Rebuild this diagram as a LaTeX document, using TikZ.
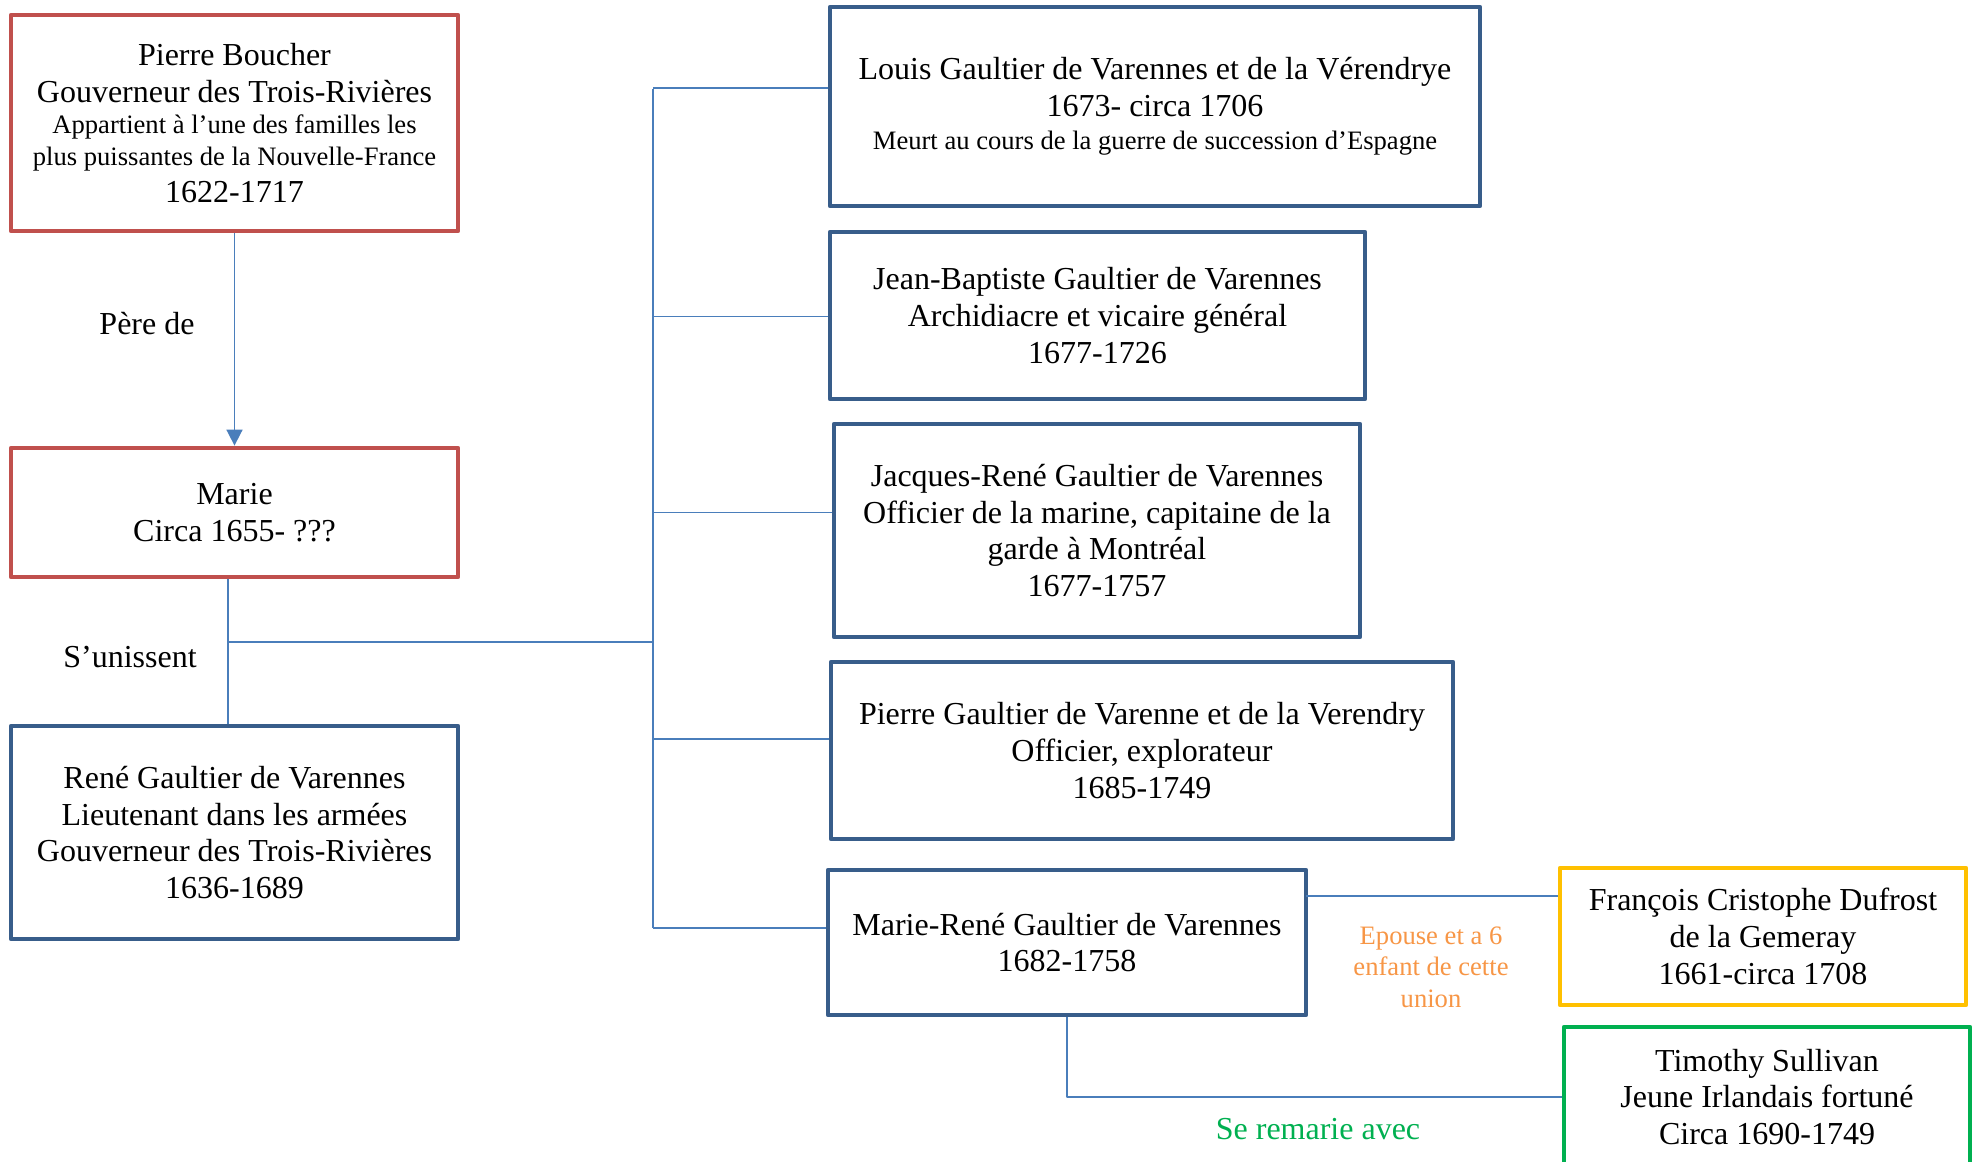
\documentclass[tikz,border=0pt]{standalone}
\usepackage{fontspec}
\setmainfont{Liberation Serif}
\usetikzlibrary{arrows.meta}
\definecolor{rouge}{RGB}{192,80,77}
\definecolor{bleu}{RGB}{56,93,138}
\definecolor{lienbleu}{RGB}{74,126,187}
\definecolor{jaune}{RGB}{255,192,0}
\definecolor{vert}{RGB}{0,176,80}
\definecolor{orangetxt}{RGB}{247,150,70}
\newcommand{\petit}{\fontsize{13.3}{15.8}\selectfont}
\begin{document}
\begin{tikzpicture}[x=0.5pt, y=-0.5pt, line join=round, >={Triangle[width=8pt,length=8pt]},
  font=\fontsize{16}{18.4}\selectfont,
  boite/.style={draw, line width=2.4pt, align=center, inner sep=0pt},
  lien/.style={lienbleu, line width=0.85pt}]
  \useasboundingbox (0,0) rectangle (1977,1162);
  \clip (0,0) rectangle (1977,1162);
  % colonne de gauche
  \node[boite, rouge, minimum width=223.5pt, minimum height=108pt] (pierre) at (234.5,123)
    {\color{black}Pierre Boucher\\ \color{black}Gouverneur des Trois-Rivières\\[-2.5pt] {\petit\color{black} Appartient à l’une des familles les}\\[-2.5pt] {\petit\color{black} plus puissantes de la Nouvelle-France}\\ \color{black}1622-1717};
  \node[boite, rouge, minimum width=223.5pt, minimum height=64.5pt, text=black] (marie) at (234.5,512.5)
    {Marie\\ Circa 1655- ???};
  \node[boite, bleu, minimum width=223.5pt, minimum height=106.5pt, text=black] (rene) at (234.5,832.5)
    {René Gaultier de Varennes\\ Lieutenant dans les armées\\ Gouverneur des Trois-Rivières\\ 1636-1689};
  % les enfants
  \node[boite, bleu, minimum width=325pt, minimum height=99.5pt, text=black] (louis) at (1155,106.5)
    {Louis Gaultier de Varennes et de la Vérendrye\\ 1673- circa 1706\\[-2pt] {\petit Meurt au cours de la guerre de succession d’Espagne}};
  \node[boite, bleu, minimum width=267.5pt, minimum height=83.5pt, text=black] (jb) at (1097.5,315.5)
    {Jean-Baptiste Gaultier de Varennes\\ Archidiacre et vicaire général\\ 1677-1726};
  \node[boite, bleu, minimum width=263pt, minimum height=106.5pt, text=black] (jr) at (1097,530.5)
    {Jacques-René Gaultier de Varennes\\ Officier de la marine, capitaine de la\\ garde à Montréal\\ 1677-1757};
  \node[boite, bleu, minimum width=311pt, minimum height=88.5pt, text=black] (pg) at (1142,750.5)
    {Pierre Gaultier de Varenne et de la Verendry\\ Officier, explorateur\\ 1685-1749};
  \node[boite, bleu, minimum width=239pt, minimum height=72.5pt, text=black] (mr) at (1067,942.5)
    {Marie-René Gaultier de Varennes\\ 1682-1758};
  \node[boite, jaune, minimum width=203pt, minimum height=68.5pt, text=black] (fr) at (1763,936.5)
    {François Cristophe Dufrost\\ de la Gemeray\\ 1661-circa 1708};
  \node[boite, vert, minimum width=203pt, minimum height=70pt, text=black] (ts) at (1767,1097)
    {Timothy Sullivan\\ Jeune Irlandais fortuné\\ Circa 1690-1749};
  % liens
  \draw[lien, ->] (pierre.south) -- (marie.north);
  \coordinate (union) at (228,642);
  \draw[lien] (union |- marie.south) -- (union |- rene.north);
  \coordinate (haut) at (653,89);
  \coordinate (bas) at (653,928);
  \draw[lien] (haut) -- (bas);
  \draw[lien] (union) -- (union -| haut);
  \foreach \y/\n in {88/louis, 316.5/jb, 512.5/jr, 739/pg, 928/mr}{
    \coordinate (t\n) at (653,\y);
    \draw[lien] (t\n) -- (t\n -| \n.west);
  }
  \coordinate (epouse) at (1306,896);
  \draw[lien] (epouse) -- (epouse -| fr.west);
  \draw[lien] (mr.south) |- (ts.west);
  % etiquettes
  \node (pere) at (147,324) {Père de};
  \node (unissent) at (130,657) {S’unissent};
  \node[orangetxt, align=center, font=\petit] (six) at (1431,967) {Epouse et a 6\\ enfant de cette\\ union};
  \node[vert] (remarie) at (1318,1129) {Se remarie avec};
\end{tikzpicture}
\end{document}
